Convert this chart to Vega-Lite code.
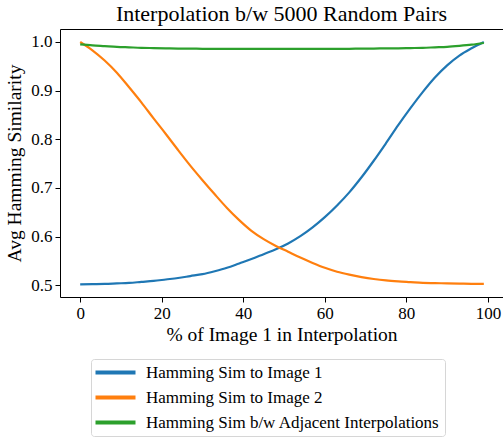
{
  "$schema": "https://vega.github.io/schema/vega-lite/v6.json",
  "width": 443,
  "height": 268,
  "autosize": "none",
  "padding": {"left": 60, "top": 29, "right": 0, "bottom": 140},
  "config": {
    "font": "Liberation Serif, Times New Roman, serif",
    "view": {"stroke": null},
    "text": {"font": "Liberation Serif, Times New Roman, serif"},
    "legend": {"labelFont": "Liberation Serif, Times New Roman, serif", "titleFont": "Liberation Serif, Times New Roman, serif"},
    "axis": {
      "domainColor": "black",
      "domainWidth": 1,
      "tickColor": "black",
      "tickSize": 5,
      "tickWidth": 1,
      "labelColor": "black",
      "labelFont": "Liberation Serif, Times New Roman, serif",
      "labelFontSize": 17,
      "labelPadding": 3,
      "titleFont": "Liberation Serif, Times New Roman, serif",
      "titleFontSize": 19.5,
      "titleFontWeight": "normal",
      "titleColor": "black",
      "grid": false
    }
  },
  "title": {
    "text": "Interpolation b/w 5000 Random Pairs",
    "font": "Liberation Serif, Times New Roman, serif",
    "fontSize": 22,
    "fontWeight": "normal",
    "color": "black",
    "anchor": "middle",
    "offset": 3
  },
  "data": {
    "values": [
      {"x": 0, "img1": 0.502, "img2": 1.0, "adj": 0.995},
      {"x": 3, "img1": 0.5025, "img2": 0.983, "adj": 0.993},
      {"x": 6, "img1": 0.503, "img2": 0.962, "adj": 0.9915},
      {"x": 9, "img1": 0.504, "img2": 0.937, "adj": 0.99},
      {"x": 12, "img1": 0.505, "img2": 0.907, "adj": 0.989},
      {"x": 15, "img1": 0.507, "img2": 0.876, "adj": 0.988},
      {"x": 18, "img1": 0.509, "img2": 0.843, "adj": 0.9875},
      {"x": 21, "img1": 0.512, "img2": 0.811, "adj": 0.987},
      {"x": 24, "img1": 0.515, "img2": 0.778, "adj": 0.9865},
      {"x": 27, "img1": 0.519, "img2": 0.746, "adj": 0.9865},
      {"x": 30, "img1": 0.523, "img2": 0.716, "adj": 0.986},
      {"x": 33, "img1": 0.529, "img2": 0.687, "adj": 0.986},
      {"x": 36, "img1": 0.536, "img2": 0.659, "adj": 0.986},
      {"x": 39, "img1": 0.545, "img2": 0.634, "adj": 0.986},
      {"x": 42, "img1": 0.554, "img2": 0.612, "adj": 0.986},
      {"x": 45, "img1": 0.564, "img2": 0.595, "adj": 0.986},
      {"x": 48, "img1": 0.574, "img2": 0.581, "adj": 0.986},
      {"x": 51, "img1": 0.586, "img2": 0.569, "adj": 0.986},
      {"x": 54, "img1": 0.601, "img2": 0.557, "adj": 0.986},
      {"x": 57, "img1": 0.619, "img2": 0.546, "adj": 0.986},
      {"x": 60, "img1": 0.64, "img2": 0.536, "adj": 0.986},
      {"x": 63, "img1": 0.664, "img2": 0.528, "adj": 0.986},
      {"x": 66, "img1": 0.691, "img2": 0.522, "adj": 0.986},
      {"x": 69, "img1": 0.722, "img2": 0.517, "adj": 0.9865},
      {"x": 72, "img1": 0.756, "img2": 0.513, "adj": 0.9865},
      {"x": 75, "img1": 0.792, "img2": 0.51, "adj": 0.987},
      {"x": 78, "img1": 0.829, "img2": 0.508, "adj": 0.987},
      {"x": 81, "img1": 0.864, "img2": 0.5065, "adj": 0.9875},
      {"x": 84, "img1": 0.897, "img2": 0.505, "adj": 0.988},
      {"x": 87, "img1": 0.927, "img2": 0.5045, "adj": 0.989},
      {"x": 90, "img1": 0.952, "img2": 0.504, "adj": 0.99},
      {"x": 93, "img1": 0.972, "img2": 0.5035, "adj": 0.992},
      {"x": 96, "img1": 0.987, "img2": 0.503, "adj": 0.9945},
      {"x": 99, "img1": 1.0, "img2": 0.503, "adj": 0.998}
    ]
  },
  "resolve": {"axis": {"x": "independent"}},
  "layer": [
    {
      "transform": [{"fold": ["img1", "img2", "adj"], "as": ["series", "sim"]}],
      "mark": {"type": "line", "strokeWidth": 2.2, "interpolate": "monotone", "clip": true},
      "encoding": {
        "x": {
          "field": "x",
          "type": "quantitative",
          "scale": {"domain": [-4.95, 103.7], "nice": false, "zero": false},
          "axis": {
            "values": [0, 20, 40, 60, 80, 100],
            "format": "d",
            "labelFlush": false,
            "labelFont": "Liberation Serif, Times New Roman, serif",
            "titleFont": "Liberation Serif, Times New Roman, serif",
            "title": "% of Image 1 in Interpolation",
            "titlePadding": 4
          }
        },
        "y": {
          "field": "sim",
          "type": "quantitative",
          "scale": {"domain": [0.476, 1.0267], "nice": false, "zero": false},
          "axis": {
            "values": [0.5, 0.6, 0.7, 0.8, 0.9, 1.0],
            "format": ".1f",
            "labelFlush": false,
            "labelFont": "Liberation Serif, Times New Roman, serif",
            "titleFont": "Liberation Serif, Times New Roman, serif",
            "title": "Avg Hamming Similarity",
            "titleX": -40,
            "titleY": 134,
            "titleAngle": -90,
            "titleAlign": "center",
            "titleBaseline": "alphabetic"
          }
        },
        "color": {
          "field": "series",
          "type": "nominal",
          "scale": {
            "domain": ["img1", "img2", "adj"],
            "range": ["#1f77b4", "#ff7f0e", "#2ca02c"]
          },
          "legend": {
            "orient": "none",
            "legendX": 31,
            "legendY": 330,
            "title": null,
            "labelExpr": "datum.label == 'img1' ? 'Hamming Sim to Image 1' : datum.label == 'img2' ? 'Hamming Sim to Image 2' : 'Hamming Sim b/w Adjacent Interpolations'",
            "symbolType": "M-2.25,0H7.75",
            "symbolStrokeWidth": 4,
            "symbolSize": 64,
            "symbolFillColor": "transparent",
            "labelFont": "Liberation Serif, Times New Roman, serif",
            "labelFontSize": 17,
            "labelColor": "black",
            "labelOffset": 33,
            "labelLimit": 500,
            "strokeColor": "#d6d6d6",
            "fillColor": "white",
            "cornerRadius": 3,
            "padding": 5,
            "rowPadding": 7
          }
        }
      }
    },
    {
      "mark": {"type": "point", "opacity": 0},
      "encoding": {
        "x": {
          "field": "x",
          "type": "quantitative",
          "axis": {"orient": "top", "labels": false, "ticks": false, "title": null}
        }
      }
    }
  ]
}
